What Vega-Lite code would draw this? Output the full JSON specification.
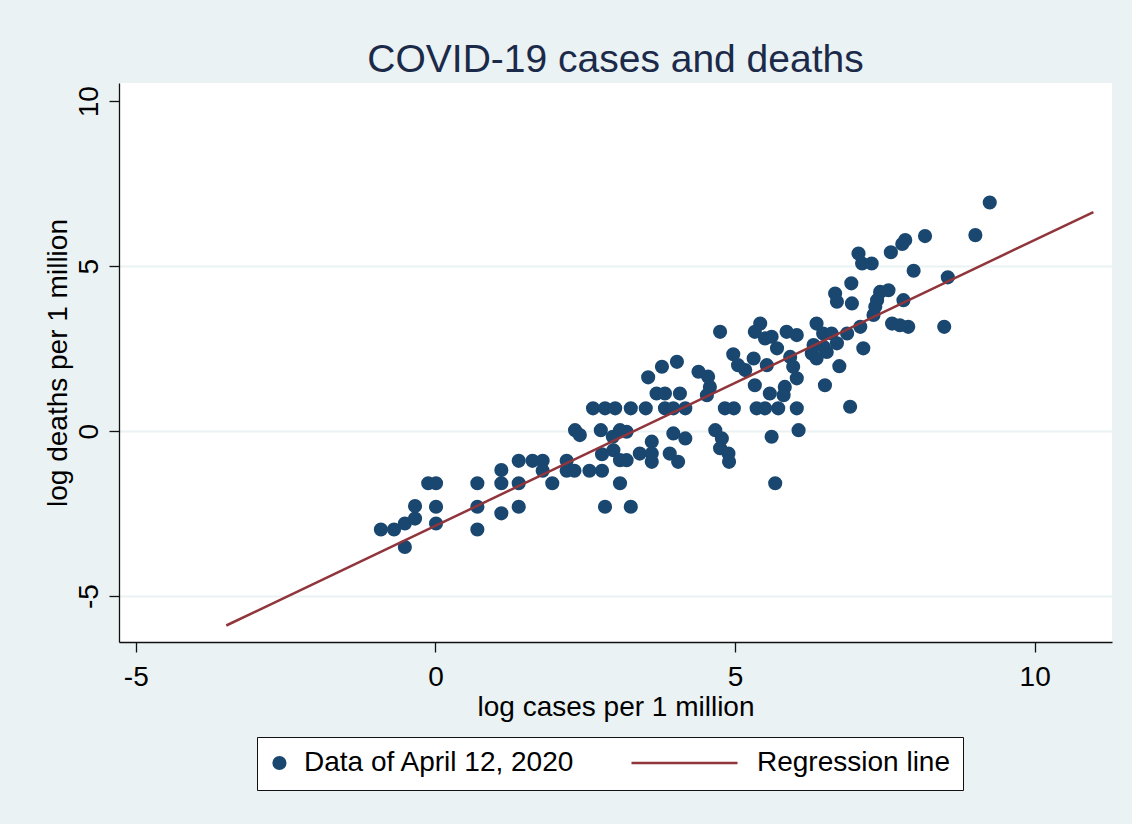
{
  "$schema": "https://vega.github.io/schema/vega-lite/v6.json",
  "width": 993,
  "height": 559,
  "autosize": {"type": "none"},
  "padding": {"left": 119, "top": 83, "right": 20, "bottom": 182},
  "background": "#eaf2f3",
  "title": {
    "text": "COVID-19 cases and deaths",
    "font": "Liberation Sans",
    "fontSize": 39,
    "fontWeight": "normal",
    "color": "#1c2a4a",
    "anchor": "middle",
    "baseline": "alphabetic",
    "offset": -28
  },
  "config": {
    "view": {"fill": "white", "stroke": null},
    "axis": {
      "labelFont": "Liberation Sans",
      "labelFontSize": 28,
      "labelColor": "black",
      "labelExpr": "'' + datum.value",
      "titleFont": "Liberation Sans",
      "titleFontSize": 28,
      "titleFontWeight": "normal",
      "titleColor": "black",
      "domainColor": "#111",
      "domainWidth": 1.3,
      "tickColor": "#111",
      "tickWidth": 1.3,
      "tickSize": 10,
      "labelOverlap": false,
      "labelFlush": false
    },
    "legend": {
      "labelFont": "Liberation Sans",
      "labelFontSize": 28,
      "labelColor": "black",
      "labelLimit": 600
    }
  },
  "datasets": {
    "points": [
      {"cases": -0.91, "deaths": -2.98, "series": "Data of April 12, 2020"},
      {"cases": -0.69, "deaths": -2.98, "series": "Data of April 12, 2020"},
      {"cases": -0.51, "deaths": -2.80, "series": "Data of April 12, 2020"},
      {"cases": -0.34, "deaths": -2.65, "series": "Data of April 12, 2020"},
      {"cases": -0.34, "deaths": -2.27, "series": "Data of April 12, 2020"},
      {"cases": -0.51, "deaths": -3.51, "series": "Data of April 12, 2020"},
      {"cases": -0.12, "deaths": -1.58, "series": "Data of April 12, 2020"},
      {"cases": 0.01, "deaths": -1.58, "series": "Data of April 12, 2020"},
      {"cases": 0.01, "deaths": -2.29, "series": "Data of April 12, 2020"},
      {"cases": 0.01, "deaths": -2.80, "series": "Data of April 12, 2020"},
      {"cases": 0.70, "deaths": -1.58, "series": "Data of April 12, 2020"},
      {"cases": 0.70, "deaths": -2.29, "series": "Data of April 12, 2020"},
      {"cases": 0.70, "deaths": -2.98, "series": "Data of April 12, 2020"},
      {"cases": 1.10, "deaths": -1.18, "series": "Data of April 12, 2020"},
      {"cases": 1.10, "deaths": -1.58, "series": "Data of April 12, 2020"},
      {"cases": 1.10, "deaths": -2.49, "series": "Data of April 12, 2020"},
      {"cases": 1.39, "deaths": -0.90, "series": "Data of April 12, 2020"},
      {"cases": 1.39, "deaths": -1.58, "series": "Data of April 12, 2020"},
      {"cases": 1.39, "deaths": -2.29, "series": "Data of April 12, 2020"},
      {"cases": 1.62, "deaths": -0.90, "series": "Data of April 12, 2020"},
      {"cases": 1.79, "deaths": -0.90, "series": "Data of April 12, 2020"},
      {"cases": 1.79, "deaths": -1.20, "series": "Data of April 12, 2020"},
      {"cases": 1.95, "deaths": -1.58, "series": "Data of April 12, 2020"},
      {"cases": 2.19, "deaths": -0.90, "series": "Data of April 12, 2020"},
      {"cases": 2.19, "deaths": -1.20, "series": "Data of April 12, 2020"},
      {"cases": 2.32, "deaths": -1.20, "series": "Data of April 12, 2020"},
      {"cases": 2.57, "deaths": -1.20, "series": "Data of April 12, 2020"},
      {"cases": 2.78, "deaths": -1.20, "series": "Data of April 12, 2020"},
      {"cases": 2.83, "deaths": -2.29, "series": "Data of April 12, 2020"},
      {"cases": 2.78, "deaths": -0.70, "series": "Data of April 12, 2020"},
      {"cases": 2.97, "deaths": -0.58, "series": "Data of April 12, 2020"},
      {"cases": 3.08, "deaths": -1.58, "series": "Data of April 12, 2020"},
      {"cases": 2.33, "deaths": 0.03, "series": "Data of April 12, 2020"},
      {"cases": 2.41, "deaths": -0.12, "series": "Data of April 12, 2020"},
      {"cases": 2.63, "deaths": 0.69, "series": "Data of April 12, 2020"},
      {"cases": 2.83, "deaths": 0.69, "series": "Data of April 12, 2020"},
      {"cases": 3.00, "deaths": 0.69, "series": "Data of April 12, 2020"},
      {"cases": 3.26, "deaths": 0.69, "series": "Data of April 12, 2020"},
      {"cases": 3.51, "deaths": 0.69, "series": "Data of April 12, 2020"},
      {"cases": 2.76, "deaths": 0.03, "series": "Data of April 12, 2020"},
      {"cases": 2.96, "deaths": -0.17, "series": "Data of April 12, 2020"},
      {"cases": 3.08, "deaths": 0.03, "series": "Data of April 12, 2020"},
      {"cases": 3.19, "deaths": -0.02, "series": "Data of April 12, 2020"},
      {"cases": 3.08, "deaths": -0.88, "series": "Data of April 12, 2020"},
      {"cases": 3.19, "deaths": -0.88, "series": "Data of April 12, 2020"},
      {"cases": 3.26, "deaths": -2.29, "series": "Data of April 12, 2020"},
      {"cases": 3.41, "deaths": -0.68, "series": "Data of April 12, 2020"},
      {"cases": 3.61, "deaths": -0.32, "series": "Data of April 12, 2020"},
      {"cases": 3.61, "deaths": -0.68, "series": "Data of April 12, 2020"},
      {"cases": 3.61, "deaths": -0.93, "series": "Data of April 12, 2020"},
      {"cases": 3.55, "deaths": 1.63, "series": "Data of April 12, 2020"},
      {"cases": 3.78, "deaths": 1.95, "series": "Data of April 12, 2020"},
      {"cases": 4.03, "deaths": 2.10, "series": "Data of April 12, 2020"},
      {"cases": 3.69, "deaths": 1.14, "series": "Data of April 12, 2020"},
      {"cases": 3.83, "deaths": 1.14, "series": "Data of April 12, 2020"},
      {"cases": 4.08, "deaths": 1.14, "series": "Data of April 12, 2020"},
      {"cases": 3.83, "deaths": 0.69, "series": "Data of April 12, 2020"},
      {"cases": 3.97, "deaths": 0.69, "series": "Data of April 12, 2020"},
      {"cases": 4.17, "deaths": 0.69, "series": "Data of April 12, 2020"},
      {"cases": 3.97, "deaths": -0.07, "series": "Data of April 12, 2020"},
      {"cases": 4.17, "deaths": -0.22, "series": "Data of April 12, 2020"},
      {"cases": 3.91, "deaths": -0.68, "series": "Data of April 12, 2020"},
      {"cases": 4.05, "deaths": -0.93, "series": "Data of April 12, 2020"},
      {"cases": 4.39, "deaths": 1.80, "series": "Data of April 12, 2020"},
      {"cases": 4.55, "deaths": 1.65, "series": "Data of April 12, 2020"},
      {"cases": 4.58, "deaths": 1.34, "series": "Data of April 12, 2020"},
      {"cases": 4.53, "deaths": 1.09, "series": "Data of April 12, 2020"},
      {"cases": 4.67, "deaths": 0.03, "series": "Data of April 12, 2020"},
      {"cases": 4.78, "deaths": -0.22, "series": "Data of April 12, 2020"},
      {"cases": 4.75, "deaths": -0.52, "series": "Data of April 12, 2020"},
      {"cases": 4.89, "deaths": -0.68, "series": "Data of April 12, 2020"},
      {"cases": 4.90, "deaths": -0.93, "series": "Data of April 12, 2020"},
      {"cases": 4.83, "deaths": 0.69, "series": "Data of April 12, 2020"},
      {"cases": 4.98, "deaths": 0.69, "series": "Data of April 12, 2020"},
      {"cases": 4.75, "deaths": 3.01, "series": "Data of April 12, 2020"},
      {"cases": 4.97, "deaths": 2.33, "series": "Data of April 12, 2020"},
      {"cases": 5.05, "deaths": 2.00, "series": "Data of April 12, 2020"},
      {"cases": 5.17, "deaths": 1.85, "series": "Data of April 12, 2020"},
      {"cases": 5.42, "deaths": 3.26, "series": "Data of April 12, 2020"},
      {"cases": 5.33, "deaths": 3.01, "series": "Data of April 12, 2020"},
      {"cases": 5.31, "deaths": 2.20, "series": "Data of April 12, 2020"},
      {"cases": 5.53, "deaths": 2.00, "series": "Data of April 12, 2020"},
      {"cases": 5.33, "deaths": 1.39, "series": "Data of April 12, 2020"},
      {"cases": 5.50, "deaths": 2.81, "series": "Data of April 12, 2020"},
      {"cases": 5.61, "deaths": 2.86, "series": "Data of April 12, 2020"},
      {"cases": 5.70, "deaths": 2.51, "series": "Data of April 12, 2020"},
      {"cases": 5.86, "deaths": 3.01, "series": "Data of April 12, 2020"},
      {"cases": 6.03, "deaths": 2.91, "series": "Data of April 12, 2020"},
      {"cases": 5.92, "deaths": 2.25, "series": "Data of April 12, 2020"},
      {"cases": 5.97, "deaths": 1.95, "series": "Data of April 12, 2020"},
      {"cases": 6.03, "deaths": 1.60, "series": "Data of April 12, 2020"},
      {"cases": 5.83, "deaths": 1.34, "series": "Data of April 12, 2020"},
      {"cases": 5.81, "deaths": 1.09, "series": "Data of April 12, 2020"},
      {"cases": 5.58, "deaths": 1.14, "series": "Data of April 12, 2020"},
      {"cases": 5.36, "deaths": 0.69, "series": "Data of April 12, 2020"},
      {"cases": 5.50, "deaths": 0.69, "series": "Data of April 12, 2020"},
      {"cases": 5.72, "deaths": 0.69, "series": "Data of April 12, 2020"},
      {"cases": 6.03, "deaths": 0.69, "series": "Data of April 12, 2020"},
      {"cases": 6.06, "deaths": 0.03, "series": "Data of April 12, 2020"},
      {"cases": 5.61, "deaths": -0.17, "series": "Data of April 12, 2020"},
      {"cases": 5.67, "deaths": -1.58, "series": "Data of April 12, 2020"},
      {"cases": 6.36, "deaths": 3.26, "series": "Data of April 12, 2020"},
      {"cases": 6.47, "deaths": 2.96, "series": "Data of April 12, 2020"},
      {"cases": 6.61, "deaths": 2.96, "series": "Data of April 12, 2020"},
      {"cases": 6.70, "deaths": 2.66, "series": "Data of April 12, 2020"},
      {"cases": 6.87, "deaths": 2.96, "series": "Data of April 12, 2020"},
      {"cases": 7.09, "deaths": 3.16, "series": "Data of April 12, 2020"},
      {"cases": 6.31, "deaths": 2.61, "series": "Data of April 12, 2020"},
      {"cases": 6.28, "deaths": 2.35, "series": "Data of April 12, 2020"},
      {"cases": 6.36, "deaths": 2.20, "series": "Data of April 12, 2020"},
      {"cases": 6.53, "deaths": 2.40, "series": "Data of April 12, 2020"},
      {"cases": 6.48, "deaths": 2.55, "series": "Data of April 12, 2020"},
      {"cases": 6.74, "deaths": 1.97, "series": "Data of April 12, 2020"},
      {"cases": 6.50, "deaths": 1.39, "series": "Data of April 12, 2020"},
      {"cases": 6.92, "deaths": 0.74, "series": "Data of April 12, 2020"},
      {"cases": 7.14, "deaths": 2.51, "series": "Data of April 12, 2020"},
      {"cases": 6.70, "deaths": 3.92, "series": "Data of April 12, 2020"},
      {"cases": 6.95, "deaths": 3.87, "series": "Data of April 12, 2020"},
      {"cases": 6.67, "deaths": 4.17, "series": "Data of April 12, 2020"},
      {"cases": 6.94, "deaths": 4.48, "series": "Data of April 12, 2020"},
      {"cases": 9.25, "deaths": 6.93, "series": "Data of April 12, 2020"},
      {"cases": 9.01, "deaths": 5.94, "series": "Data of April 12, 2020"},
      {"cases": 8.17, "deaths": 5.91, "series": "Data of April 12, 2020"},
      {"cases": 7.84, "deaths": 5.79, "series": "Data of April 12, 2020"},
      {"cases": 7.79, "deaths": 5.67, "series": "Data of April 12, 2020"},
      {"cases": 7.60, "deaths": 5.42, "series": "Data of April 12, 2020"},
      {"cases": 7.06, "deaths": 5.38, "series": "Data of April 12, 2020"},
      {"cases": 7.12, "deaths": 5.08, "series": "Data of April 12, 2020"},
      {"cases": 7.28, "deaths": 5.08, "series": "Data of April 12, 2020"},
      {"cases": 7.98, "deaths": 4.86, "series": "Data of April 12, 2020"},
      {"cases": 8.55, "deaths": 4.66, "series": "Data of April 12, 2020"},
      {"cases": 7.42, "deaths": 4.22, "series": "Data of April 12, 2020"},
      {"cases": 7.56, "deaths": 4.27, "series": "Data of April 12, 2020"},
      {"cases": 7.37, "deaths": 3.97, "series": "Data of April 12, 2020"},
      {"cases": 7.34, "deaths": 3.77, "series": "Data of April 12, 2020"},
      {"cases": 7.31, "deaths": 3.52, "series": "Data of April 12, 2020"},
      {"cases": 7.81, "deaths": 3.97, "series": "Data of April 12, 2020"},
      {"cases": 7.62, "deaths": 3.26, "series": "Data of April 12, 2020"},
      {"cases": 7.75, "deaths": 3.21, "series": "Data of April 12, 2020"},
      {"cases": 7.89, "deaths": 3.16, "series": "Data of April 12, 2020"},
      {"cases": 8.49, "deaths": 3.16, "series": "Data of April 12, 2020"}
    ],
    "fit": [
      {"cases": -3.49, "deaths": -5.89, "series": "Regression line"},
      {"cases": 10.98, "deaths": 6.64, "series": "Regression line"}
    ]
  },
  "encoding": {
    "x": {
      "field": "cases",
      "type": "quantitative",
      "scale": {"domain": [-5.28, 11.29], "nice": false, "zero": false},
      "axis": {
        "title": "log cases per 1 million",
        "values": [-5, 0, 5, 10],
        "grid": false,
        "labelPadding": 11,
        "titlePadding": 2
      }
    },
    "y": {
      "field": "deaths",
      "type": "quantitative",
      "scale": {"domain": [-6.39, 10.55], "nice": false, "zero": false},
      "axis": {
        "title": "log deaths per 1 million",
        "values": [-5, 0, 5, 10],
        "grid": true,
        "gridColor": {"condition": {"test": "datum.value === 10", "value": "rgba(0,0,0,0)"}, "value": "#eaf2f3"},
        "gridWidth": 2,
        "labelAngle": 270,
        "labelAlign": "center",
        "labelBaseline": "alphabetic",
        "labelPadding": 12,
        "titlePadding": 3
      }
    },
    "color": {
      "field": "series",
      "type": "nominal",
      "scale": {
        "domain": ["Data of April 12, 2020", "Regression line"],
        "range": ["#1a476f", "#90353b"]
      },
      "legend": {
        "title": null,
        "orient": "none",
        "legendX": 138,
        "legendY": 654,
        "direction": "horizontal",
        "strokeColor": "#111",
        "fillColor": "white",
        "padding": 13,
        "clipHeight": 26,
        "columnPadding": 55,
        "labelOffset": 13,
        "encode": {
          "symbols": {
            "update": {
              "shape": {"signal": "datum.value == 'Regression line' ? 'stroke' : 'M-0.96,0A0.11,0.11,0,1,0,-0.74,0A0.11,0.11,0,1,0,-0.96,0Z'"},
              "size": {"value": 11236},
              "strokeWidth": {"value": 2.5},
              "fill": {"signal": "datum.value == 'Regression line' ? 'transparent' : '#1a476f'"},
              "stroke": {"signal": "datum.value == 'Regression line' ? '#90353b' : '#1a476f'"},
              "opacity": {"value": 1},
              "fillOpacity": {"value": 1},
              "strokeOpacity": {"value": 1}
            }
          },
          "labels": {
            "update": {
              "x": {"signal": "datum.value == 'Regression line' ? 127 : 34"}
            }
          }
        }
      }
    }
  },
  "layer": [
    {
      "data": {"name": "points"},
      "mark": {"type": "circle", "size": 200, "opacity": 1}
    },
    {
      "data": {"name": "fit"},
      "mark": {"type": "line", "strokeWidth": 2.5}
    }
  ]
}
